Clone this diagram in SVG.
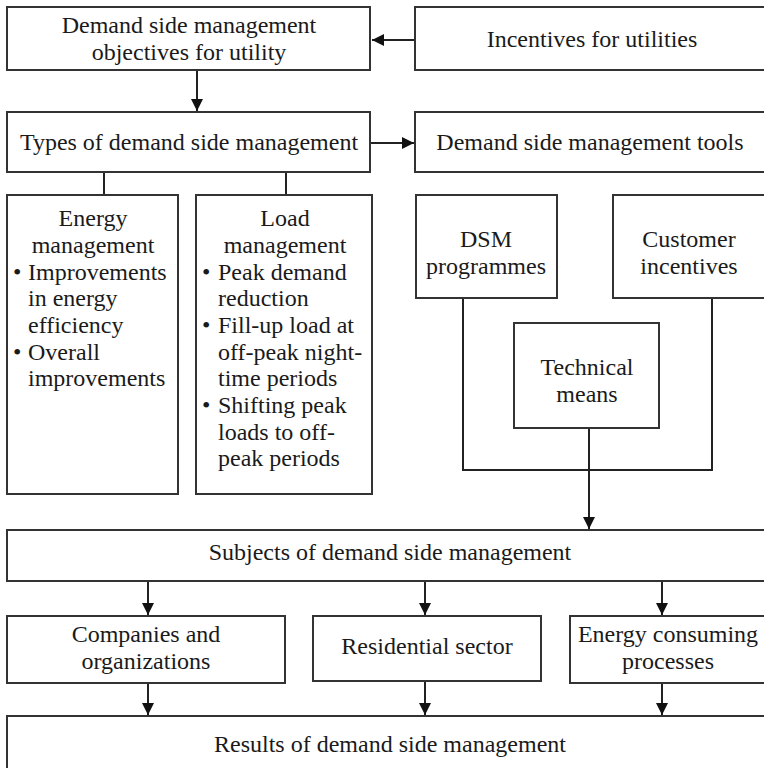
<svg xmlns="http://www.w3.org/2000/svg" width="764" height="768" viewBox="0 0 764 768">
<defs>
<marker id="ah" markerWidth="12" markerHeight="12" viewBox="0 0 12 12" refX="12" refY="6" orient="auto" markerUnits="userSpaceOnUse">
<path d="M0,0 L12,6 L0,12 Z" fill="#111"/>
</marker>
</defs>
<style>
.box{fill:#fff;stroke:#333;stroke-width:2}
.t{font-size:24px;fill:#1a1a1a}
.c{text-anchor:middle}
.ln{fill:none;stroke:#222;stroke-width:2}
.ar{fill:none;stroke:#222;stroke-width:2;marker-end:url(#ah)}
</style>
<rect width="764" height="768" fill="#fff"/>
<g id="connectors">
<path class="ar" d="M415,40 H372"/>
<path class="ar" d="M197,70 V111"/>
<path class="ar" d="M370,143 H414"/>
<path class="ln" d="M104,172 V195"/>
<path class="ln" d="M286,172 V195"/>
<path class="ln" d="M463,298 V470 H712 V298"/>
<path class="ar" d="M589,428 V529"/>
<path class="ar" d="M148,581 V615"/>
<path class="ar" d="M425,581 V615"/>
<path class="ar" d="M662,581 V615"/>
<path class="ar" d="M148,683 V715"/>
<path class="ar" d="M425,681 V715"/>
<path class="ar" d="M662,683 V715"/>
</g>
<g font-family="Liberation Serif, Times New Roman, serif">
<g id="objectives"><rect class="box" x="7" y="7" width="363" height="63"/><text class="t c" x="189" y="33">Demand side management</text><text class="t c" x="189" y="60">objectives for utility</text></g>
<g id="incentives"><rect class="box" x="415" y="7" width="352" height="63"/><text class="t c" x="592" y="47">Incentives for utilities</text></g>
<g id="types"><rect class="box" x="7" y="112" width="363" height="60"/><text class="t c" x="189" y="150">Types of demand side management</text></g>
<g id="tools"><rect class="box" x="415" y="112" width="352" height="60"/><text class="t c" x="590" y="150">Demand side management tools</text></g>
<g id="energy-mgmt"><rect class="box" x="7" y="195" width="171" height="299"/>
<text class="t c" x="93" y="226">Energy</text><text class="t c" x="93" y="253">management</text>
<text class="t" x="13" y="280">•</text><text class="t" x="28" y="280">Improvements</text>
<text class="t" x="28" y="306">in energy</text><text class="t" x="28" y="333">efficiency</text>
<text class="t" x="13" y="360">•</text><text class="t" x="28" y="360">Overall</text>
<text class="t" x="28" y="386">improvements</text></g>
<g id="load-mgmt"><rect class="box" x="196" y="195" width="176" height="299"/>
<text class="t c" x="285" y="226">Load</text><text class="t c" x="285" y="253">management</text>
<text class="t" x="202" y="280">•</text><text class="t" x="218" y="280">Peak demand</text>
<text class="t" x="218" y="306">reduction</text>
<text class="t" x="202" y="333">•</text><text class="t" x="218" y="333">Fill-up load at</text>
<text class="t" x="218" y="360">off-peak night-</text>
<text class="t" x="218" y="386">time periods</text>
<text class="t" x="202" y="413">•</text><text class="t" x="218" y="413">Shifting peak</text>
<text class="t" x="218" y="440">loads to off-</text>
<text class="t" x="218" y="466">peak periods</text></g>
<g id="dsm-programmes"><rect class="box" x="416" y="195" width="141" height="103"/><text class="t c" x="486" y="247">DSM</text><text class="t c" x="486" y="274">programmes</text></g>
<g id="customer-incentives"><rect class="box" x="613" y="195" width="154" height="103"/><text class="t c" x="689" y="247">Customer</text><text class="t c" x="689" y="274">incentives</text></g>
<g id="technical-means"><rect class="box" x="514" y="323" width="145" height="105"/><text class="t c" x="587" y="375">Technical</text><text class="t c" x="587" y="402">means</text></g>
<g id="subjects"><rect class="box" x="7" y="530" width="760" height="51"/><text class="t c" x="390" y="560">Subjects of demand side management</text></g>
<g id="companies"><rect class="box" x="7" y="616" width="278" height="67"/><text class="t c" x="146" y="642">Companies and</text><text class="t c" x="146" y="669">organizations</text></g>
<g id="residential"><rect class="box" x="313" y="616" width="228" height="65"/><text class="t c" x="427" y="654">Residential sector</text></g>
<g id="processes"><rect class="box" x="570" y="616" width="197" height="67"/><text class="t c" x="668" y="642">Energy consuming</text><text class="t c" x="668" y="669">processes</text></g>
<g id="results"><rect class="box" x="7" y="716" width="760" height="55"/><text class="t c" x="390" y="752">Results of demand side management</text></g>
</g>
</svg>
